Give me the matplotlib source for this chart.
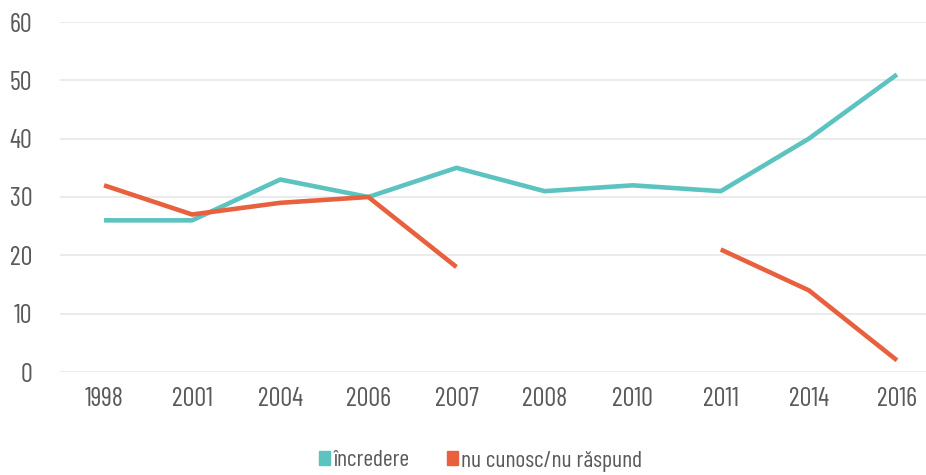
import numpy as np
import matplotlib
matplotlib.use("Agg")
import matplotlib.pyplot as plt
from matplotlib.patches import Patch

years = ["1998", "2001", "2004", "2006", "2007", "2008", "2010", "2011", "2014", "2016"]
incredere = [26, 26, 33, 30, 35, 31, 32, 31, 40, 51]
nu_cunosc = [32, 27, 29, 30, 18, np.nan, np.nan, 21, 14, 2]
yticks = [0, 10, 20, 30, 40, 50, 60]

TEAL = "#5cc3c0"
RED = "#e8613f"
GREY = "#5a5a5a"

plt.rcParams["font.family"] = ["Barlow Condensed", "DejaVu Sans"]

fig = plt.figure(figsize=(9.26, 4.75), dpi=100)
# axes run past the right edge, as in the cropped original
ax = fig.add_axes([60 / 926, 1 - 372 / 475, 881 / 926, 350 / 475])

x = np.arange(len(years))
ax.plot(x, incredere, color=TEAL, linewidth=3.3, solid_capstyle="butt")
ax.plot(x, nu_cunosc, color=RED, linewidth=3.3, solid_capstyle="butt")

ax.set_xlim(-0.5, len(years) - 0.5)
ax.set_ylim(0, 60)
ax.set_yticks(yticks)
ax.set_xticks(x)
ax.set_xticklabels(years)
ax.tick_params(axis="both", length=0, labelsize=19, labelcolor=GREY)
ax.tick_params(axis="y", pad=20)
ax.tick_params(axis="x", pad=11)
ax.grid(axis="y", color="#e8e8e8", linewidth=1.2)
ax.set_axisbelow(True)
for s in ax.spines.values():
    s.set_visible(False)

handles = [Patch(color=TEAL), Patch(color=RED)]
fig.legend(handles, ["încredere", "nu cunosc/nu răspund"], loc="center",
           bbox_to_anchor=(481 / 926, 1 - 461 / 475), ncol=2, frameon=False,
           fontsize=17, labelcolor=GREY, handlelength=0.45, handleheight=0.55,
           handletextpad=0.15, columnspacing=1.6)

fig.savefig("out.png", dpi=100)
